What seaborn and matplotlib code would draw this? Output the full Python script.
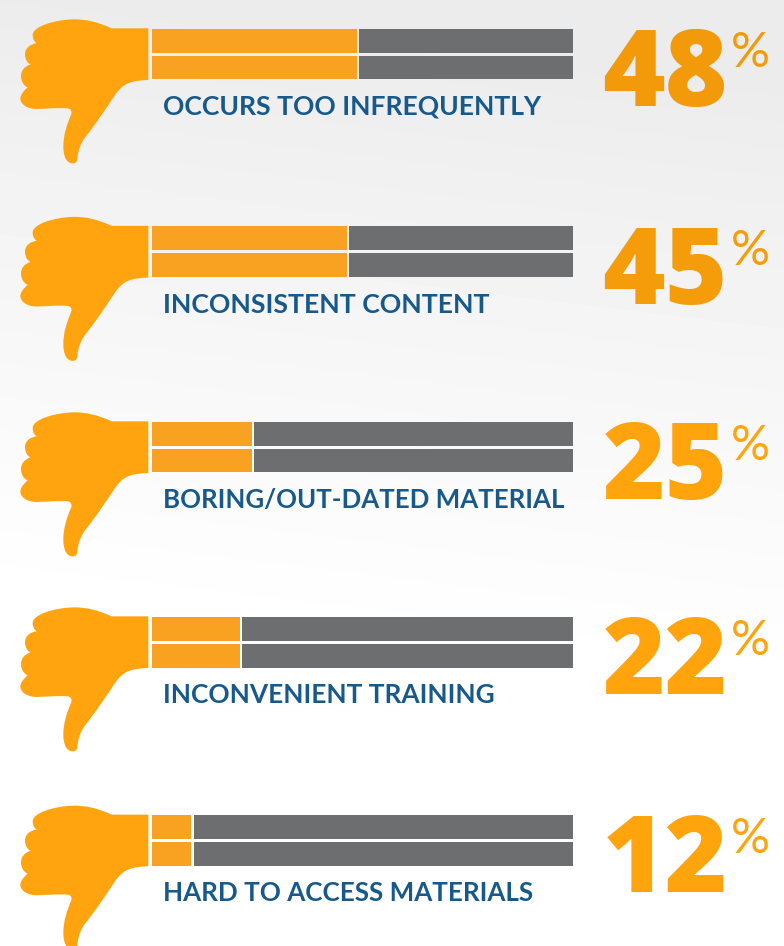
import numpy as np
import pandas as pd
import matplotlib
matplotlib.use("Agg")
import matplotlib.pyplot as plt
from matplotlib.path import Path
from matplotlib.patches import PathPatch
from matplotlib.transforms import Affine2D
import seaborn as sns

categories = ["OCCURS TOO INFREQUENTLY", "INCONSISTENT CONTENT", "BORING/OUT-DATED MATERIAL",
              "INCONVENIENT TRAINING", "HARD TO ACCESS MATERIALS"]
percent_labels = ["48", "45", "25", "22", "12"]
# drawn length of the orange part (share of the full bar)
orange_share = [48.8, 46.4, 23.9, 21.0, 9.5]
full_bar = 100.0
strips = ["upper", "lower"]
label_sizes = [19.05, 19.2, 18.67, 18.95, 18.75]

ORANGE_HAND = "#FFA30E"
ORANGE_BAR = "#F9A120"
GRAY = "#6D6E70"
BLUE = "#17598A"
num_colors = ["#F39A0B", "#F59C0B", "#FFA40D", "#FFA40D", "#FFA40D"]

W, H = 784, 946
sns.set_theme(style="white")
plt.rcParams["font.family"] = ["Lato", "DejaVu Sans"]
fig = plt.figure(figsize=(W / 100, H / 100), dpi=100)

# background wash
bg = fig.add_axes([0, 0, 1, 1], zorder=0)
yy, xx = np.mgrid[0:H:240j, 0:W:200j]
t = np.clip((yy - 0.12 * xx + 20) / 620, 0, 1)
shade = 0.922 + (1.0 - 0.922) * t ** 0.9
bg.imshow(shade, cmap="gray", vmin=0, vmax=1, extent=[0, W, H, 0], aspect="auto", interpolation="bilinear")
bg.set_xlim(0, W); bg.set_ylim(H, 0); bg.axis("off")

# overlay in pixel space for hand and text
ov = fig.add_axes([0, 0, 1, 1], zorder=3)
ov.set_xlim(0, W); ov.set_ylim(H, 0); ov.axis("off"); ov.patch.set_alpha(0)

M, C, L = Path.MOVETO, Path.CURVE4, Path.LINETO
hand_z = [
    (M, (445, 55)), (L, (335, 55)),
    (C, (290, 35)), (C, (260, 28)), (C, (220, 28)),
    (C, (160, 30)), (C, (98, 50)), (C, (98, 75)),
    (C, (98, 88)), (C, (104, 96)), (C, (110, 100)),
    (C, (90, 102)), (C, (75, 115)), (C, (75, 132)),
    (C, (75, 148)), (C, (82, 160)), (C, (92, 163)),
    (C, (72, 170)), (C, (63, 182)), (C, (63, 198)),
    (C, (63, 215)), (C, (72, 228)), (C, (83, 232)),
    (C, (70, 243)), (C, (61, 255)), (C, (61, 266)),
    (C, (62, 285)), (C, (85, 297)), (C, (110, 297)),
    (C, (140, 296)), (C, (175, 293)), (C, (203, 295)),
    (C, (213, 297)), (C, (216, 303)), (C, (214, 312)),
    (C, (200, 345)), (C, (190, 375)), (C, (190, 410)),
    (C, (190, 440)), (C, (200, 460)), (C, (218, 460)),
    (C, (226, 460)), (C, (231, 457)), (C, (232, 445)),
    (C, (234, 420)), (C, (243, 398)), (C, (255, 382)),
    (C, (285, 345)), (C, (315, 300)), (C, (345, 255)),
    (C, (370, 218)), (C, (395, 212)), (C, (445, 210)),
    (L, (445, 55)),
]
hand_codes = [c for c, _ in hand_z]
hand_pts = np.array([p for _, p in hand_z], float) / 3 + np.array([0, 10])
hand_path = Path(hand_pts, hand_codes)

row_offsets = [0, 197.5, 393, 588, 786.3]
bar_left, bar_right = 151.5, 572.5
bar_top0, bar_bot0 = 29.0, 79.5

for i, off in enumerate(row_offsets):
    ov.add_patch(PathPatch(hand_path, transform=Affine2D().translate(0, off) + ov.transData,
                           facecolor=ORANGE_HAND, edgecolor="none", linewidth=0))
    ax = fig.add_axes([bar_left / W, 1 - (bar_bot0 + off) / H, (bar_right - bar_left) / W,
                       (bar_bot0 - bar_top0) / H], zorder=2)
    share = orange_share[i]
    gap = 0.5
    df = pd.DataFrame({"strip": strips, "orange": [share] * 2, "gray": [full_bar - share - gap] * 2})
    sns.barplot(data=df, y="strip", x="orange", color=ORANGE_BAR, saturation=1, width=0.9, ax=ax,
                orient="y", linewidth=0)
    sns.barplot(data=df, y="strip", x="gray", color=GRAY, saturation=1, width=0.9, ax=ax, orient="y",
                left=share + gap, linewidth=0)
    ax.set_xlim(0, full_bar)
    ax.set_ylim(1.45, -0.45)
    ax.axis("off")
    ax.patch.set_alpha(0)

    ov.text(163, 115 + off, categories[i], color=BLUE, fontsize=label_sizes[i], fontweight="bold",
            ha="left", va="baseline")
    ov.text(728, 106 + off, percent_labels[i], color=num_colors[i], fontsize=77, fontweight=900,
            family=["Open Sans", "Lato"], ha="right", va="baseline")
    ov.text(770, 67 + off, "%", color=num_colors[i], fontsize=35, fontweight="normal",
            ha="right", va="baseline")

fig.savefig("out.png", dpi=100)
